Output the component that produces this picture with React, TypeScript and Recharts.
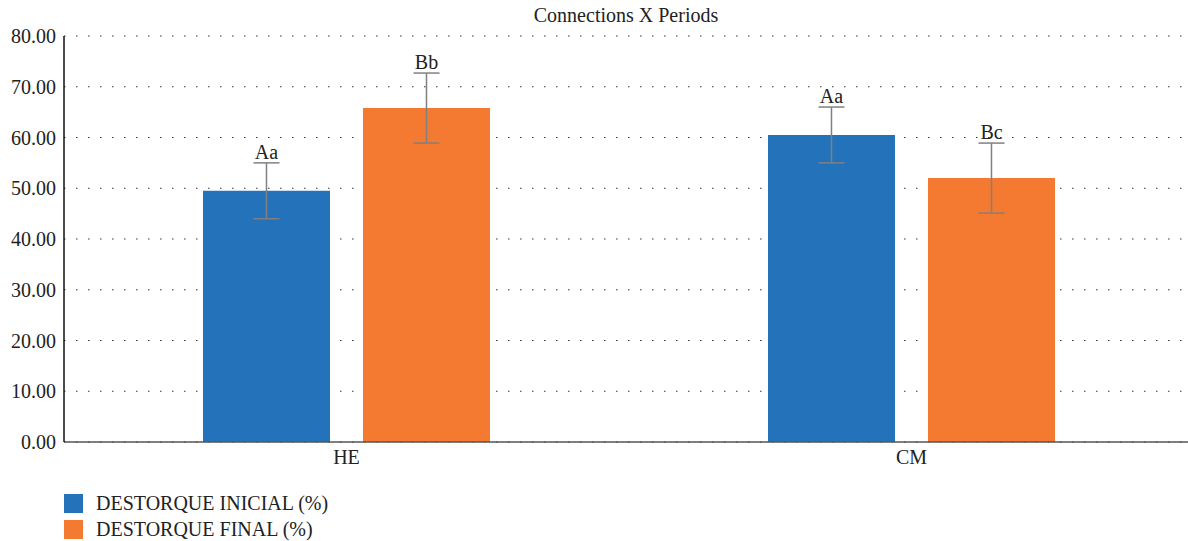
import React from "react";
import {
  BarChart,
  Bar,
  XAxis,
  YAxis,
  CartesianGrid,
  ErrorBar,
  LabelList,
} from "recharts";

// valores
const categories = ["HE", "CM"];
const inicial = [49.5, 60.5];
const final = [65.8, 52.0];
const inicialErr = [5.5, 5.5];
const finalErr = [6.9, 6.9];
const inicialLetters = ["Aa", "Aa"];
const finalLetters = ["Bb", "Bc"];
const yTicks = [0, 10, 20, 30, 40, 50, 60, 70, 80];

const BLUE = "#2473ba";
const ORANGE = "#f37a30";
const FONT = "'Liberation Serif', 'DejaVu Serif', serif";

const data = categories.map((name, i) => ({
  name,
  inicial: inicial[i],
  final: final[i],
  inicialErr: inicialErr[i],
  finalErr: finalErr[i],
  inicialLetter: inicialLetters[i],
  finalLetter: finalLetters[i],
}));

// rótulo acima da barra de erro
const makeLetterLabel = (values: number[], errs: number[]) => (props: any) => {
  const { x, y, width, height, value, index } = props;
  const v = values[index];
  const pxPerUnit = height / v;
  const top = y - errs[index] * pxPerUnit;
  return (
    <text
      x={x + width / 2}
      y={top - 4}
      textAnchor="middle"
      fontFamily={FONT}
      fontSize={20}
      fill="#222"
    >
      {value}
    </text>
  );
};

export default function App() {
  return (
    <div
      style={{
        position: "absolute",
        left: 0,
        top: 0,
        width: 1188,
        height: 541,
        overflow: "hidden",
        fontFamily: FONT,
      }}
    >
      <div
        style={{
          position: "absolute",
          left: 64,
          width: 1124,
          top: 4,
          textAlign: "center",
          fontSize: 20,
          color: "#222",
        }}
      >
        Connections X Periods
      </div>
      <BarChart
        width={1194}
        height={541}
        data={data}
        margin={{ top: 36, right: 0, left: 0, bottom: 69 }}
        barCategoryGap="24.6%"
        barGap={33}
      >
        <CartesianGrid
          vertical={false}
          stroke="#333"
          strokeDasharray="1.5 10.5"
        />
        <XAxis
          dataKey="name"
          tickLine={false}
          axisLine={{ stroke: "#555", strokeWidth: 1.5 }}
          tick={{ fontFamily: FONT, fontSize: 20, fill: "#222" }}
          height={30}
        />
        <YAxis
          domain={[0, 80]}
          ticks={yTicks}
          tickLine={false}
          width={64}
          axisLine={{ stroke: "#111", strokeWidth: 1.5 }}
          tickFormatter={(v: number) => v.toFixed(2)}
          tick={{ fontFamily: FONT, fontSize: 20, fill: "#222" }}
        />
        <Bar dataKey="inicial" fill={BLUE} isAnimationActive={false}>
          <ErrorBar dataKey="inicialErr" width={13} stroke="#808080" strokeWidth={1.5} direction="y" />
          <LabelList dataKey="inicialLetter" content={makeLetterLabel(inicial, inicialErr)} />
        </Bar>
        <Bar dataKey="final" fill={ORANGE} isAnimationActive={false}>
          <ErrorBar dataKey="finalErr" width={13} stroke="#808080" strokeWidth={1.5} direction="y" />
          <LabelList dataKey="finalLetter" content={makeLetterLabel(final, finalErr)} />
        </Bar>
      </BarChart>
      <div style={{ position: "absolute", left: 64, top: 490, fontSize: 20, color: "#222" }}>
        {[
          { label: "DESTORQUE INICIAL (%)", color: BLUE },
          { label: "DESTORQUE FINAL (%)", color: ORANGE },
        ].map((item) => (
          <div key={item.label} style={{ display: "flex", alignItems: "center", height: 26 }}>
            <span style={{ width: 19, height: 19, background: item.color, display: "inline-block", marginRight: 13 }} />
            <span>{item.label}</span>
          </div>
        ))}
      </div>
    </div>
  );
}
